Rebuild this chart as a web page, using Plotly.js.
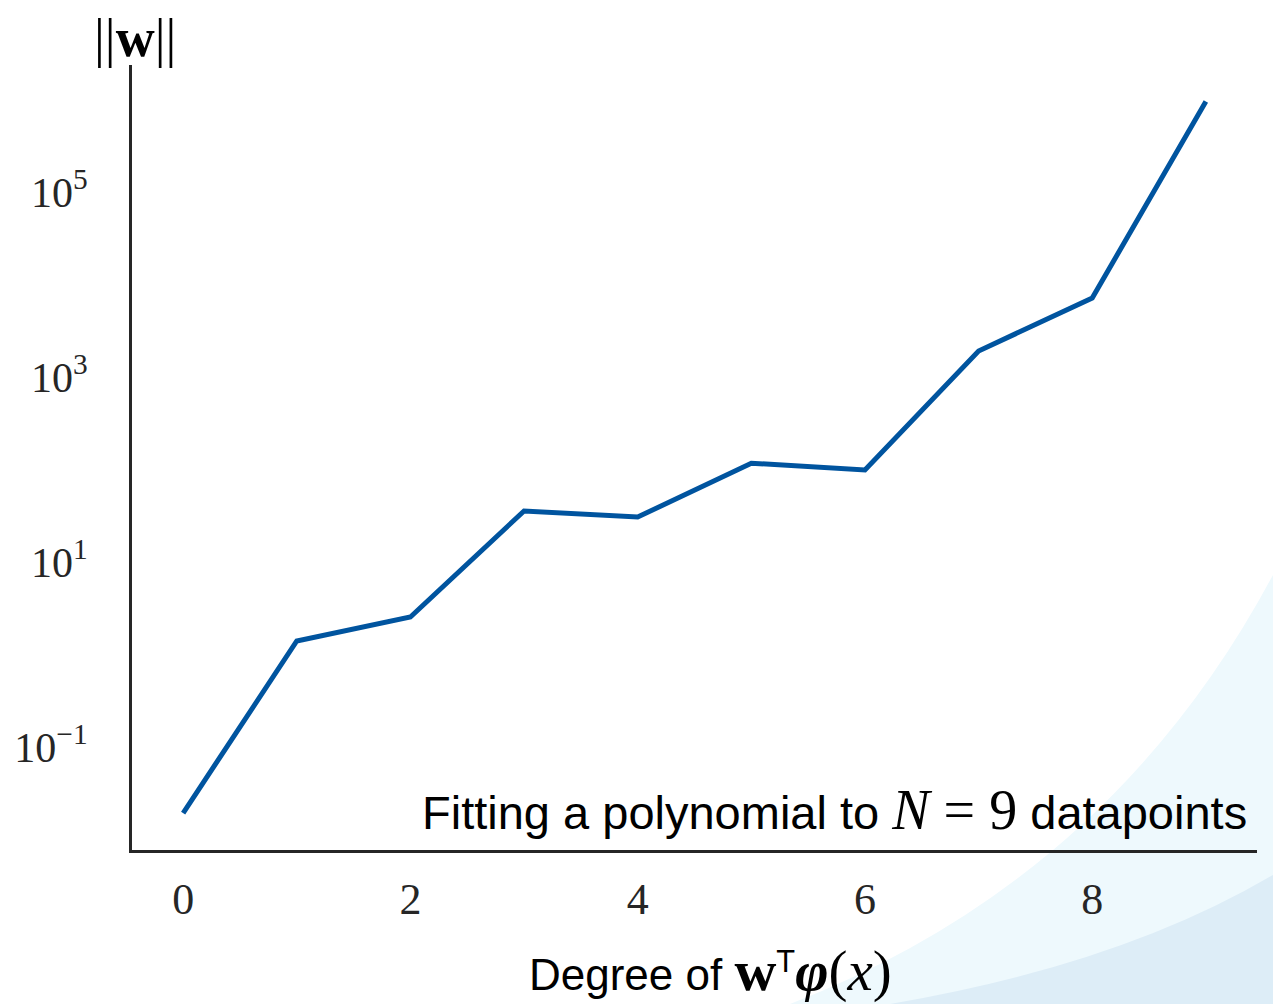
<!DOCTYPE html>
<html>
<head>
<meta charset="utf-8">
<script src="https://cdn.plot.ly/plotly-3.0.1.min.js"></script>
<style>
  html, body { margin: 0; padding: 0; background: #ffffff; }
  #chart { width: 1273px; height: 1004px; }
</style>
</head>
<body>
<div id="chart"></div>
<script>
// ---- data ----
const degrees = [0, 1, 2, 3, 4, 5, 6, 7, 8, 9];
const weightNorm = [0.0193, 1.40, 2.54, 35.6, 30.6, 117, 98.6, 1910, 7140, 950000];
const yTickVals = [0.1, 10, 1000, 100000];
const yTickText = ['10<sup>−1</sup>', '10<sup>1</sup>', '10<sup>3</sup>', '10<sup>5</sup>'];
const xTickVals = [0, 2, 4, 6, 8];

// ---- layout helpers ----
const W = 1273, H = 1004;
const M = { l: 132, r: 16, t: 65, b: 154 };
const PW = W - M.l - M.r, PH = H - M.t - M.b;
function px(x) { return ((x - M.l) / PW).toFixed(4); }
function py(y) { return ((H - M.b - y) / PH).toFixed(4); }
function pt(x, y) { return px(x) + ',' + py(y); }

const serif = 'Liberation Serif, DejaVu Serif, serif';
const sans = 'Liberation Sans, Arial, Helvetica, sans-serif';
const mathSpan = (s, size) => '<span style="font-family:Liberation Serif;font-size:' + size + 'px">' + s + '</span>';
const NB = '\u00a0';

const trace = {
  x: degrees,
  y: weightNorm,
  type: 'scatter',
  mode: 'lines',
  line: { color: '#00549f', width: 5 },
  hoverinfo: 'skip'
};

const layout = {
  width: W,
  height: H,
  margin: M,
  paper_bgcolor: '#ffffff',
  plot_bgcolor: 'rgba(0,0,0,0)',
  showlegend: false,
  xaxis: {
    range: [-0.45, 9.45],
    tickvals: xTickVals,
    ticks: '',
    ticklabelstandoff: 8,
    showgrid: false,
    zeroline: false,
    showline: true,
    linecolor: '#262626',
    linewidth: 3,
    tickfont: { family: serif, size: 44, color: '#262626' },
    title: { text: '' }
  },
  yaxis: {
    type: 'log',
    range: [-2.114, 6.373],
    tickvals: yTickVals,
    ticktext: yTickText,
    ticks: '',
    ticklabelstandoff: 33,
    showgrid: false,
    zeroline: false,
    showline: true,
    linecolor: '#262626',
    linewidth: 3,
    tickfont: { family: serif, size: 42, color: '#262626' },
    title: { text: '' }
  },
  shapes: [
    {
      type: 'path', xref: 'paper', yref: 'paper', layer: 'below',
      path: 'M ' + pt(1273, 575) + ' Q ' + pt(1110, 880) + ' ' + pt(790, 1004) +
            ' L ' + pt(1273, 1004) + ' Z',
      fillcolor: '#eef9fd', line: { width: 0 }
    },
    {
      type: 'path', xref: 'paper', yref: 'paper', layer: 'below',
      path: 'M ' + pt(1273, 875) + ' Q ' + pt(1120, 965) + ' ' + pt(890, 1004) +
            ' L ' + pt(1273, 1004) + ' Z',
      fillcolor: '#ddedf7', line: { width: 0 }
    }
  ],
  annotations: [
    {
      xref: 'paper', yref: 'paper',
      x: px(135), y: py(38),
      xanchor: 'center', yanchor: 'middle',
      showarrow: false,
      text: '||<b>w</b>||',
      font: { family: serif, size: 54, color: '#000000' }
    },
    {
      xref: 'paper', yref: 'paper',
      x: px(1249), y: py(810),
      xanchor: 'right', yanchor: 'middle',
      showarrow: false,
      text: 'Fitting a polynomial to ' + mathSpan('<i>N</i>' + NB + '=' + NB + '9', 56) + ' datapoints',
      font: { family: sans, size: 47, color: '#000000' }
    },
    {
      xref: 'paper', yref: 'paper',
      x: px(710), y: py(971),
      xanchor: 'center', yanchor: 'middle',
      showarrow: false,
      text: 'Degree of ' + mathSpan('<b>w</b>', 58) + '<sup>T</sup>' + mathSpan('<b><i>φ</i></b>(<i>x</i>)', 57),
      font: { family: sans, size: 44, color: '#000000' }
    }
  ]
};

Plotly.newPlot('chart', [trace], layout, { staticPlot: true, displayModeBar: false });
</script>
</body>
</html>
